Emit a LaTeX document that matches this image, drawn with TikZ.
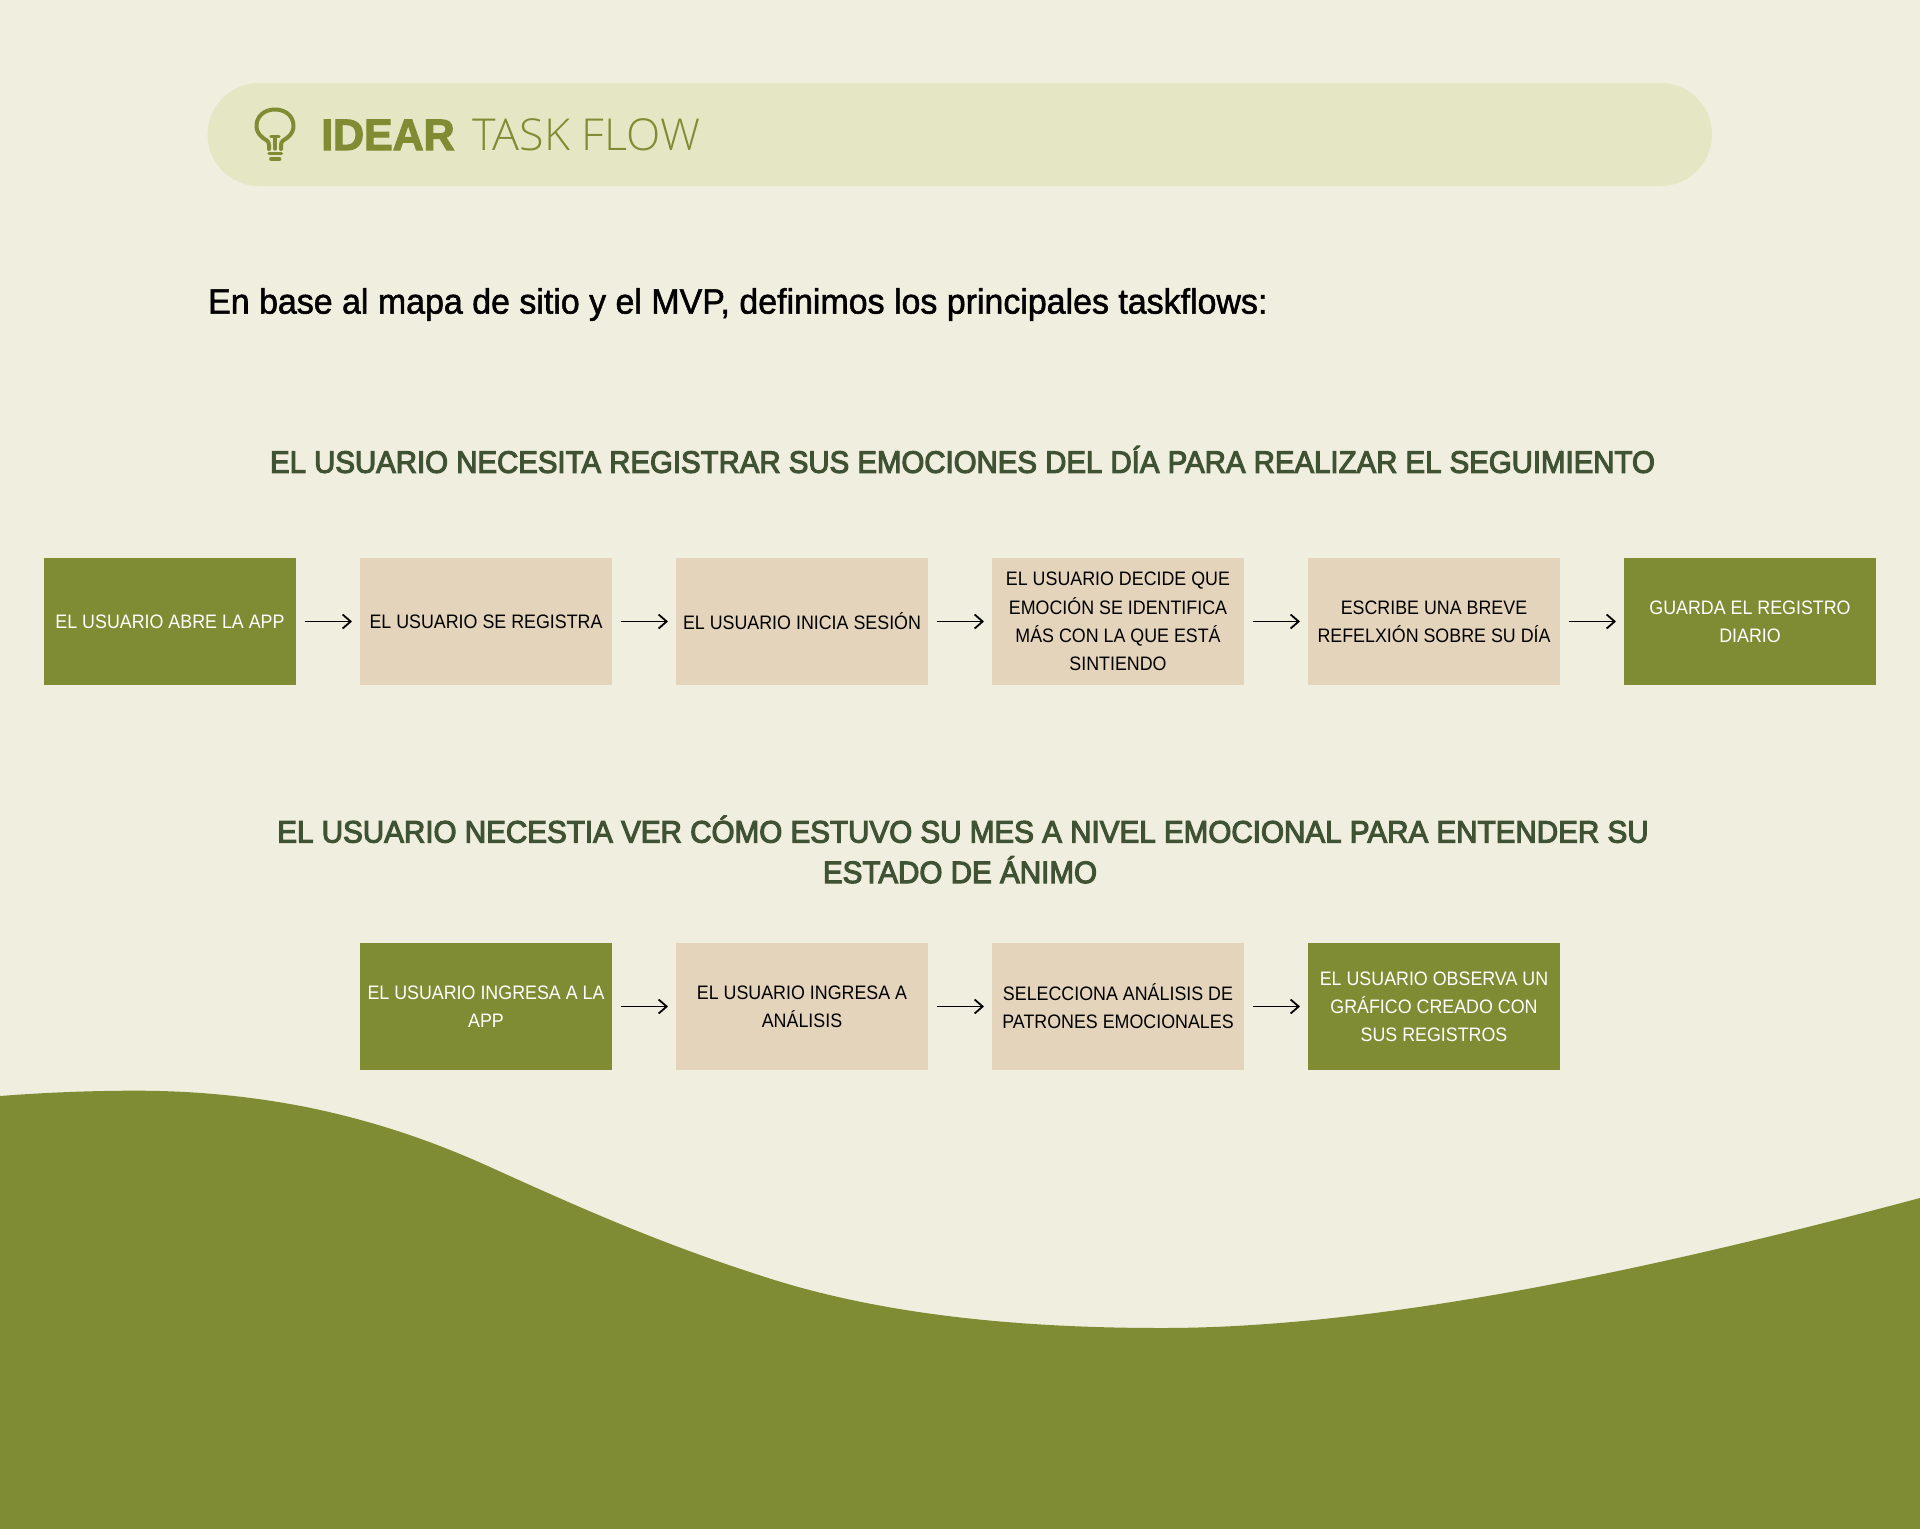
\documentclass[tikz,border=0pt]{standalone}
\usepackage{fontspec}
\usetikzlibrary{arrows.meta}
\setmainfont{Liberation Sans}[FakeStretch=0.915]
\newfontfamily\lightf{Open Sans Light}[FakeStretch=1.02]
\newfontfamily\semif{Liberation Sans}[FakeStretch=0.948,FakeBold=3.5]
\newfontfamily\semiftwo{Liberation Sans}[FakeStretch=0.955,FakeBold=3.5]
\newfontfamily\heavyf{Liberation Sans}[BoldFeatures={FakeStretch=0.975,FakeBold=2.5}]
\newfontfamily\introf{Liberation Sans}[FakeStretch=0.964,FakeBold=1.5]
\definecolor{bgc}{HTML}{F0EEDF}
\definecolor{pillc}{HTML}{E4E6C4}
\definecolor{olive}{HTML}{7F8C33}
\definecolor{sand}{HTML}{E4D4BB}
\definecolor{headc}{HTML}{3F5233}
\tikzset{
 x=1pt,y=-1pt,
 flow/.style={minimum width=252pt,minimum height=126.5pt,inner sep=0pt,outer sep=0pt,align=center,font=\fontsize{19.5}{28.2}\selectfont},
 olivebox/.style={flow,fill=olive,text=white},
 sandbox/.style={flow,fill=sand,text=black},
 conn/.style={draw=black,line width=1.8pt,-{Straight Barb[length=8pt,width=14pt,line width=1.8pt]},shorten <=8.7pt,shorten >=8pt},
 headt/.style={text=headc,font=\semif\fontsize{31}{40.5}\selectfont,align=center,inner sep=0pt},
 headtwo/.style={headt,font=\semiftwo\fontsize{31}{40.5}\selectfont},
 bulbline/.style={draw=olive,line width=4pt,line cap=round,line join=round},
}
\begin{document}
\begin{tikzpicture}
\useasboundingbox (0,0) rectangle (1920,1529);
\fill[bgc] (0,0) rectangle (1920,1529);
\fill[olive] (0,1096) .. controls (45,1092.5) and (95,1090.5) .. (141,1090.7)
 .. controls (200,1091) and (255,1097) .. (306,1107)
 .. controls (375,1121) and (435,1142) .. (490,1167)
 .. controls (600,1217) and (670,1246.5) .. (765,1277)
 .. controls (870,1311) and (1000,1328) .. (1162,1328)
 .. controls (1380,1328) and (1650,1270) .. (1920,1198)
 -- (1920,1529) -- (0,1529) -- cycle;
\fill[pillc,rounded corners=51.5pt] (207.6,83) rectangle (1712,186);
% bulb icon
\draw[bulbline] (269,149) -- (269,145) .. controls (269,141) and (266,140) .. (263,138)
  .. controls (258,134) and (256.5,130) .. (256.5,126)
  .. controls (256.5,116) and (264.5,109.5) .. (275,109.5)
  .. controls (285.5,109.5) and (293.5,116) .. (293.5,126)
  .. controls (293.5,130) and (292,134) .. (287,138)
  .. controls (284,140) and (281,141) .. (281,145) -- (281,149);
\draw[bulbline,line width=3.2pt] (271,136.5) -- (279,136.5) (275,137) -- (275,149);
\draw[bulbline,line width=3.2pt] (269,153.5) -- (281.5,153.5);
\draw[bulbline,line width=3.6pt] (271,159) -- (279.5,159);
\node[anchor=base west,inner sep=0pt,text=olive,font=\heavyf\bfseries\fontsize{44}{44}\selectfont] (t1) at (321,150) {IDEAR};
\node[anchor=base west,inner sep=0pt,text=olive,font=\lightf\fontsize{44}{44}\selectfont] (t2) at (472,150) {TASK FLOW};
\node[anchor=west,inner sep=0pt,text=black,font=\introf\fontsize{35.2}{40}\selectfont] (intro) at (208,304.5) {En base al mapa de sitio y el MVP, definimos los principales taskflows:};
\node[headt] (h1) at (962.5,459.5) {EL USUARIO NECESITA REGISTRAR SUS EMOCIONES DEL DÍA PARA REALIZAR EL SEGUIMIENTO};
\node[headtwo] (h2) at (960,849.5) {\hspace*{6pt}EL USUARIO NECESTIA VER CÓMO ESTUVO SU MES A NIVEL EMOCIONAL PARA ENTENDER SU\\ESTADO DE ÁNIMO};
\node[olivebox] (a1) at (170,621.5) {EL USUARIO ABRE LA APP};
\node[sandbox] (a2) at (486,621.5) {EL USUARIO SE REGISTRA};
\node[sandbox] (a3) at (802,621.5) {EL USUARIO INICIA SESIÓN};
\node[sandbox] (a4) at (1118,621.5) {EL USUARIO DECIDE QUE\\EMOCIÓN SE IDENTIFICA\\MÁS CON LA QUE ESTÁ\\SINTIENDO};
\node[sandbox] (a5) at (1434,621.5) {ESCRIBE UNA BREVE\\REFELXIÓN SOBRE SU DÍA};
\node[olivebox] (a6) at (1750,621.5) {GUARDA EL REGISTRO\\DIARIO};
\node[olivebox] (b1) at (486,1006.5) {EL USUARIO INGRESA A LA\\APP};
\node[sandbox] (b2) at (802,1006.5) {EL USUARIO INGRESA A\\ANÁLISIS};
\node[sandbox] (b3) at (1118,1006.5) {SELECCIONA ANÁLISIS DE\\PATRONES EMOCIONALES};
\node[olivebox] (b4) at (1434,1006.5) {EL USUARIO OBSERVA UN\\GRÁFICO CREADO CON\\SUS REGISTROS};
\foreach \p/\q in {a1/a2,a2/a3,a3/a4,a4/a5,a5/a6,b1/b2,b2/b3,b3/b4}
  \draw[conn] (\p) -- (\q);
\end{tikzpicture}
\end{document}
